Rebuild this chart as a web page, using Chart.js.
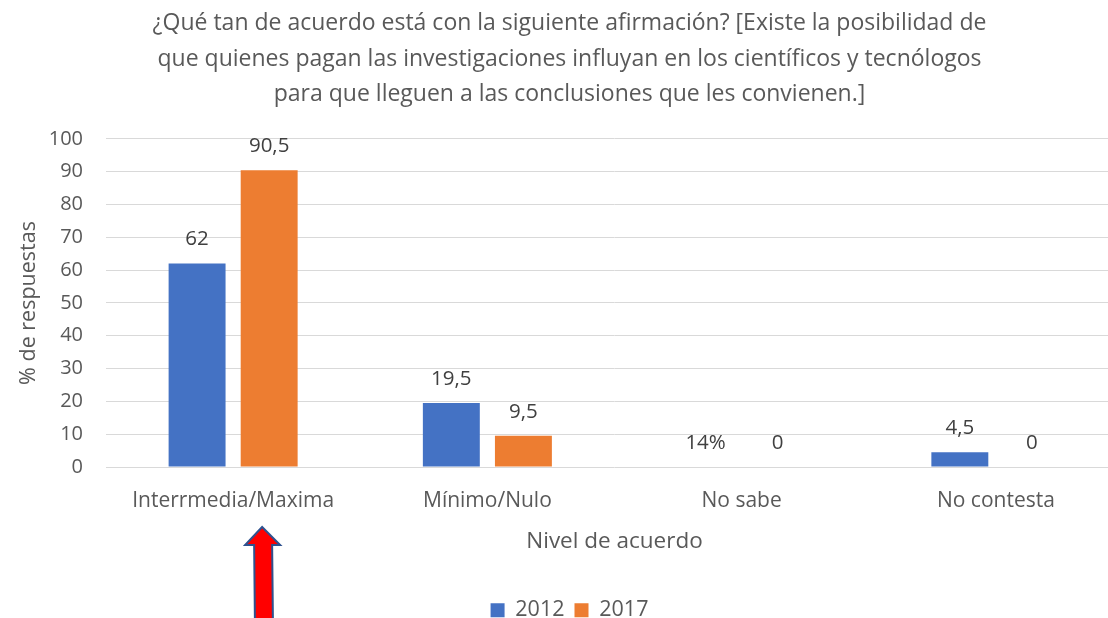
<!DOCTYPE html>
<html>
<head>
<meta charset="utf-8">
<script src="https://cdn.jsdelivr.net/npm/chart.js@4/dist/chart.umd.min.js"></script>
<style>
  body { margin: 0; background: #fff; overflow: hidden; }
  #wrap { width: 1133px; height: 631px; }
</style>
</head>
<body>
<div id="wrap"><canvas id="chart" width="1133" height="631"></canvas></div>
<script>
const categories = ["Interrmedia/Maxima", "Mínimo/Nulo", "No sabe", "No contesta"];
const values2012 = [62, 19.5, 0, 4.5];
const values2017 = [90.5, 9.5, 0, 0];
const labels2012 = ["62", "19,5", "14%", "4,5"];
const labels2017 = ["90,5", "9,5", "0", "0"];
const titleLines = [
    "¿Qué tan de acuerdo está con la siguiente afirmación? [Existe la posibilidad de",
    "que quienes pagan las investigaciones influyan en los científicos y tecnólogos",
    "para que lleguen a las conclusiones que les convienen.]"
];

const textGrey = "#595959";
const fontName = "'Open Sans', sans-serif";

// data labels above each bar
const barLabels = {
    id: "barLabels",
    afterDatasetsDraw(chart) {
        const ctx = chart.ctx;
        const texts = [labels2012, labels2017];
        ctx.save();
        ctx.font = "20.5px " + fontName;
        ctx.fillStyle = "#404040";
        ctx.textAlign = "center";
        ctx.textBaseline = "middle";
        chart.data.datasets.forEach((ds, i) => {
            chart.getDatasetMeta(i).data.forEach((bar, j) => {
                ctx.fillText(texts[i][j], bar.x, bar.y - 24);
            });
        });
        ctx.restore();
    }
};

// red arrow pointing at the first category
const arrow = {
    id: "arrow",
    afterDraw(chart) {
        const ctx = chart.ctx;
        const cx = chart.scales.x.getPixelForValue(0) + 29;
        ctx.save();
        ctx.beginPath();
        ctx.moveTo(cx, 527);
        ctx.lineTo(cx + 18, 545);
        ctx.lineTo(cx + 10, 545);
        ctx.lineTo(cx + 11, 640);
        ctx.lineTo(cx - 7, 640);
        ctx.lineTo(cx - 8, 545);
        ctx.lineTo(cx - 17, 545);
        ctx.closePath();
        ctx.fillStyle = "#FF0000";
        ctx.fill();
        ctx.lineWidth = 2;
        ctx.strokeStyle = "#2F528F";
        ctx.stroke();
        ctx.restore();
    }
};

new Chart(document.getElementById("chart"), {
    type: "bar",
    data: {
        labels: categories,
        datasets: [
            {
                label: "2012",
                data: values2012,
                backgroundColor: "#4472C4",
                categoryPercentage: 0.567,
                barPercentage: 0.79
            },
            {
                label: "2017",
                data: values2017,
                backgroundColor: "#ED7D31",
                categoryPercentage: 0.567,
                barPercentage: 0.79
            }
        ]
    },
    options: {
        responsive: false,
        animation: false,
        layout: {
            padding: { top: 6, left: 16, right: 10, bottom: 0 }
        },
        plugins: {
            title: {
                display: true,
                text: titleLines,
                color: textGrey,
                font: { family: fontName, size: 23, weight: "normal", lineHeight: 1.543 },
                padding: { top: 0, bottom: 26.5 }
            },
            legend: {
                position: "bottom",
                labels: {
                    color: textGrey,
                    font: { family: fontName, size: 21.5 },
                    boxWidth: 14,
                    boxHeight: 14,
                    padding: 10
                }
            },
            tooltip: { enabled: false }
        },
        scales: {
            x: {
                grid: { display: false },
                border: { display: false },
                ticks: {
                    color: textGrey,
                    font: { family: fontName, size: 21 },
                    padding: 13
                },
                title: {
                    display: true,
                    text: "Nivel de acuerdo",
                    color: textGrey,
                    font: { family: fontName, size: 22.5 },
                    padding: { top: 0, bottom: 34 }
                },
                afterFit(scale) {
                    scale.height = 122.5;
                }
            },
            y: {
                min: 0,
                max: 100,
                ticks: {
                    stepSize: 10,
                    color: textGrey,
                    font: { family: fontName, size: 20 },
                    padding: 23
                },
                grid: { color: "#D9D9D9", lineWidth: 1, drawTicks: false },
                border: { display: false },
                title: {
                    display: true,
                    text: "% de respuestas",
                    color: textGrey,
                    font: { family: fontName, size: 21.5 },
                    padding: { top: 0, bottom: 0 }
                },
                afterFit(scale) {
                    scale.width = 90;
                }
            }
        }
    },
    plugins: [barLabels, arrow]
});
</script>
</body>
</html>
